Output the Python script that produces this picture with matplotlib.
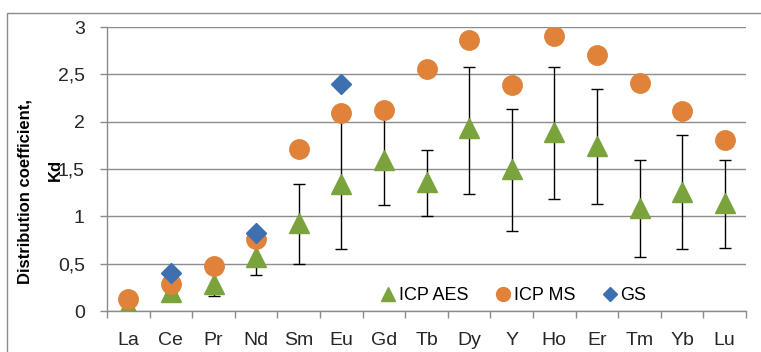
import matplotlib
matplotlib.use("Agg")
import matplotlib.pyplot as plt
from matplotlib.lines import Line2D
from matplotlib.patches import Rectangle
import numpy as np

elements = ["La", "Ce", "Pr", "Nd", "Sm", "Eu", "Gd", "Tb", "Dy", "Y", "Ho", "Er", "Tm", "Yb", "Lu"]
icp_aes = [0.05, 0.20, 0.29, 0.57, 0.93, 1.34, 1.60, 1.36, 1.93, 1.50, 1.89, 1.74, 1.09, 1.26, 1.14]
aes_low = [0.05, 0.20, 0.16, 0.38, 0.50, 0.66, 1.12, 1.00, 1.24, 0.85, 1.18, 1.13, 0.57, 0.65, 0.67]
aes_high = [0.05, 0.20, 0.44, 0.76, 1.34, 2.02, 2.08, 1.70, 2.58, 2.13, 2.58, 2.35, 1.59, 1.86, 1.59]
icp_ms = [0.13, 0.28, 0.48, 0.76, 1.71, 2.09, 2.12, 2.56, 2.86, 2.39, 2.90, 2.70, 2.41, 2.11, 1.81]
gs_elements = ["Ce", "Nd", "Eu"]
gs_values = [0.40, 0.82, 2.40]
y_ticks = [0, 0.5, 1, 1.5, 2, 2.5, 3]
y_ticklabels = ["0", "0,5", "1", "1,5", "2", "2,5", "3"]

GREEN = "#7AA33E"
ORANGE = "#E0823A"
BLUE = "#3E6FB0"
GRID = "#8C8C8C"

plt.rcParams["font.family"] = ["Liberation Sans", "DejaVu Sans"]

fig = plt.figure(figsize=(7.61, 3.52), dpi=100)
ax = fig.add_axes([107 / 761, 1 - 311 / 352, (746 - 107) / 761, (311 - 27) / 352])

# outer chart frame
fig.patches.append(Rectangle((7 / 761, -0.1), 1.0, 1.1 - 13 / 352, transform=fig.transFigure,
                             fill=False, edgecolor=GRID, linewidth=1.0))

x = np.arange(len(elements))
aes = np.array(icp_aes)
yerr = [aes - np.array(aes_low), np.array(aes_high) - aes]

ax.errorbar(x, aes, yerr=yerr, fmt="none", ecolor="black", elinewidth=1.0,
            capsize=4.5, capthick=1.0, zorder=3)
ax.plot(x, aes, linestyle="none", marker="^", markersize=15, color=GREEN, zorder=4)
ax.plot(x, icp_ms, linestyle="none", marker="o", markersize=14, color=ORANGE, zorder=5)
gs_x = [elements.index(e) for e in gs_elements]
ax.plot(gs_x, gs_values, linestyle="none", marker="D", markersize=10, color=BLUE, zorder=6)

ax.set_xlim(-0.5, len(elements) - 0.5)
ax.set_ylim(0, 3)
ax.set_yticks(y_ticks)
ax.set_yticklabels(y_ticklabels)
ax.set_xticks(x)
ax.set_xticklabels(elements)
ax.set_xticks(np.arange(-0.5, len(elements), 1.0), minor=True)
ax.tick_params(axis="x", which="major", length=0, pad=15, labelsize=14, labelcolor="#262626")
ax.tick_params(axis="x", which="minor", length=5, color=GRID, width=1.0)
ax.tick_params(axis="y", length=5, color=GRID, width=1.0, pad=11, labelsize=14, labelcolor="#262626")

ax.grid(axis="y", color=GRID, linewidth=1.0)
ax.set_axisbelow(True)
for side in ["top", "right"]:
    ax.spines[side].set_visible(False)
for side in ["left", "bottom"]:
    ax.spines[side].set_color(GRID)
    ax.spines[side].set_linewidth(1.0)

fig.text(25 / 761, 1 - 192 / 352, "Distribution coefficient,", rotation=90, ha="center",
         va="center", rotation_mode="anchor", fontsize=12, fontweight="bold")
fig.text(55 / 761, 1 - 170 / 352, "Kd", rotation=90, ha="center", va="center",
         rotation_mode="anchor", fontsize=12, fontweight="bold")

handles = [
    Line2D([], [], linestyle="none", marker="^", markersize=10, color=GREEN),
    Line2D([], [], linestyle="none", marker="o", markersize=10, color=ORANGE),
    Line2D([], [], linestyle="none", marker="D", markersize=7, color=BLUE),
]
ax.legend(handles, ["ICP AES", "ICP MS", "GS"], loc="center", bbox_to_anchor=(0.635, 0.055),
          ncol=3, frameon=False, fontsize=13, handletextpad=0.1, columnspacing=1.4,
          handlelength=1.0)

fig.savefig("out.png", dpi=100)
